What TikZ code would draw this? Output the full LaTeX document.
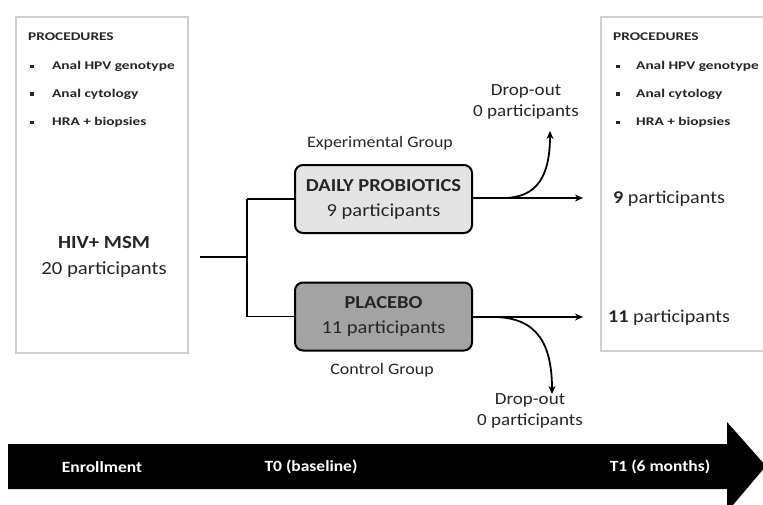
\documentclass[tikz,border=0pt]{standalone}
\usepackage{fontspec}
\setmainfont[FakeStretch=1.12]{Carlito}
\newfontfamily\widerfont[FakeStretch=1.3]{Carlito}
\usetikzlibrary{arrows.meta}
\definecolor{txt}{HTML}{262626}
\definecolor{frame}{HTML}{CFCFCF}
\definecolor{lightfill}{HTML}{E4E4E4}
\definecolor{darkfill}{HTML}{A3A3A3}
\tikzset{
  panel/.style={draw=frame, line width=2pt, fill=white, inner sep=0pt, anchor=north west},
  armbox/.style={draw=black, line width=2pt, rounded corners=8pt, minimum width=177pt, minimum height=68pt, align=center, text=txt, inner sep=0pt, font=\fontsize{18.3}{25}\selectfont},
  conn/.style={line width=1.8pt, draw=black},
  arr/.style={conn, -{Stealth[length=8pt,width=7pt]}},
  lbl/.style={text=txt, font=\fontsize{16}{19}\selectfont, align=center, inner sep=0pt},
  drop/.style={text=txt, font=\fontsize{17}{21}\selectfont, align=center, inner sep=0pt},
  proc/.style={text=txt, font=\widerfont\fontsize{11.8}{13}\selectfont\bfseries, anchor=west, inner sep=0pt},
  bul/.style={fill=txt, minimum size=3.5pt, inner sep=0pt},
  count/.style={text=txt, font=\fontsize{18}{21}\selectfont, anchor=west, inner sep=0pt},
  tl/.style={text=white, font=\fontsize{15.6}{18}\selectfont\bfseries, inner sep=0pt},
}
\begin{document}
\begin{tikzpicture}[x=1pt,y=-1pt]
\useasboundingbox (0,0) rectangle (763,504);
% panels
\node[panel, minimum width=172pt, minimum height=336pt] (left) at (15,16) {};
\node[panel, minimum width=175pt, minimum height=334pt] (right) at (600,16) {};
% left panel text
\node[proc] (lp) at (28,37) {PROCEDURES};
\node[bul] (lb1) at (32,66.5) {}; \node[proc] (l1) at (52,66.5) {Anal HPV genotype};
\node[bul] (lb2) at (32,94) {}; \node[proc] (l2) at (52,94) {Anal cytology};
\node[bul] (lb3) at (32,122.5) {}; \node[proc] (l3) at (52,122.5) {HRA + biopsies};
\node[text=txt, font=\fontsize{18.5}{26}\selectfont, align=center, inner sep=0pt] (hiv) at (104,257) {\textbf{HIV+ MSM}\\20 participants};
% right panel text
\node[proc] (rp) at (613,37) {PROCEDURES};
\node[bul] (rb1) at (618,66.5) {}; \node[proc] (r1) at (636,66.5) {Anal HPV genotype};
\node[bul] (rb2) at (618,94) {}; \node[proc] (r2) at (636,94) {Anal cytology};
\node[bul] (rb3) at (618,122.5) {}; \node[proc] (r3) at (636,122.5) {HRA + biopsies};
\node[count] (n9) at (613,199) {\textbf{9} participants};
\node[count] (n11) at (608,318) {\textbf{11} participants};
% arm boxes
\node[armbox, fill=lightfill] (pro) at (383.5,199) {\textbf{DAILY PROBIOTICS}\\9 participants};
\node[armbox, fill=darkfill] (pla) at (383.5,316.5) {\textbf{PLACEBO}\\11 participants};
\node[lbl] (exp) at (380,143) {Experimental Group};
\node[lbl] (ctl) at (382,370) {Control Group};
\node[drop] (d1) at (526,102) {Drop-out\\0 participants};
\node[drop] (d2) at (530,411) {Drop-out\\0 participants};
% connectors
\coordinate (s) at (200,257);
\coordinate (j) at (247,257);
\coordinate (e1) at (583,198);
\coordinate (e2) at (583,317);
\coordinate (o1) at (550,131);
\coordinate (o2) at (552,394);
\coordinate (b1) at (503,198);
\coordinate (b2) at (493,317);
\draw[conn] (s) -- (j);
\draw[conn] (j |- pro.west) -- (j |- pla.west);
\draw[conn] (j |- pro.west) -- (pro.west);
\draw[conn] (j |- pla.west) -- (pla.west);
\draw[arr] (pro.east |- e1) -- (e1);
\draw[arr] (pla.east |- e2) -- (e2);
\draw[arr] (b1) .. controls (538,198) and (550,175) .. (o1);
\draw[arr] (b2) .. controls (538,317) and (552,345) .. (o2);
% timeline arrow
\fill[black] (8,444) -- (727,444) -- (727,422) -- (766,466) -- (727,512) -- (727,489) -- (8,489) -- cycle;
\node[tl] (enr) at (102,467) {Enrollment};
\node[tl] (t0) at (311,467) {T0 (baseline)};
\node[tl] (t1) at (660,467) {T1 (6 months)};
\end{tikzpicture}
\end{document}
